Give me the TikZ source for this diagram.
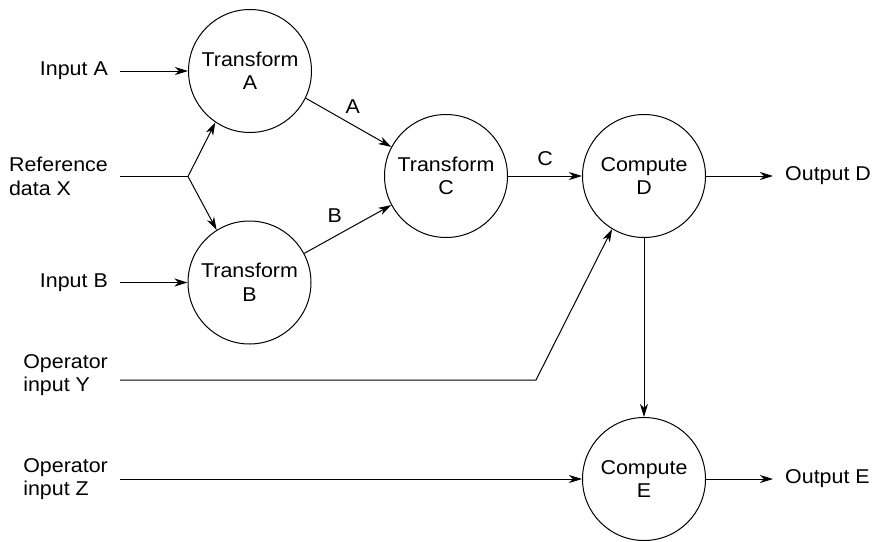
\documentclass[tikz,border=0pt]{standalone}
\usepackage{fontspec}
\setmainfont[FakeStretch=1.07]{Liberation Sans}
\usetikzlibrary{arrows.meta}
\begin{document}
\begin{tikzpicture}[x=1pt,y=-1pt,
  proc/.style={draw,circle,minimum size=123pt,inner sep=0pt,align=center,line width=1pt},
  lbl/.style={anchor=east,align=left,inner sep=0pt},
  outlbl/.style={anchor=west,inner sep=0pt},
  flow/.style={line width=1pt,-{Stealth[length=13pt,width=8pt,inset=4pt]}},
  plainline/.style={line width=1pt},
  every node/.style={font=\fontsize{20}{23.5}\selectfont}]
\useasboundingbox (0,0) rectangle (873,541);
\node[proc] (A) at (250,71) {Transform\\A};
\node[proc] (B) at (249.5,282.5) {Transform\\B};
\node[proc] (C) at (446,176) {Transform\\C};
\node[proc] (D) at (644,176) {Compute\\D};
\node[proc] (E) at (644,479) {Compute\\E};
\node[lbl] (inA) at (108,71) {Input A};
\node[lbl] (refX) at (108,176.5) {Reference\\data X};
\node[lbl] (inB) at (108,282.5) {Input B};
\node[lbl] (opY) at (108,375) {Operator\\input Y};
\node[lbl] (opZ) at (108,479) {Operator\\input Z};
\node[outlbl] (outD) at (785,176) {Output D};
\node[outlbl] (outE) at (785,479) {Output E};
\coordinate (J) at (188,176.5);
\coordinate (K) at (536,380);
\draw[flow] (inA.east) ++(12,0) coordinate (a0) -- (A.west);
\draw[plainline] (refX.east) ++(12,0) coordinate (x0) -- (J);
\draw[flow] (J) -- (A.236);
\draw[flow] (J) -- (B.122);
\draw[flow] (inB.east) ++(12,0) coordinate (b0) -- (B.west);
\draw[flow] (A.-26) -- node[pos=0.55,above=8pt] (lA) {A} (C.152);
\draw[flow] (B.28) -- node[pos=0.35,above=10pt] (lB) {B} (C.208);
\draw[flow] (C.east) -- node[above=6pt] (lC) {C} (D.west);
\draw[flow] (D.east) -- ([xshift=-12pt]outD.west);
\draw[flow] (opY.east |- K) ++(12,0) coordinate (y0) -- (K) -- (D.239);
\draw[flow] (D.south) -- (E.north);
\draw[flow] (opZ.east) ++(12,0) coordinate (z0) -- (E.west);
\draw[flow] (E.east) -- ([xshift=-12pt]outE.west);
\end{tikzpicture}
\end{document}
